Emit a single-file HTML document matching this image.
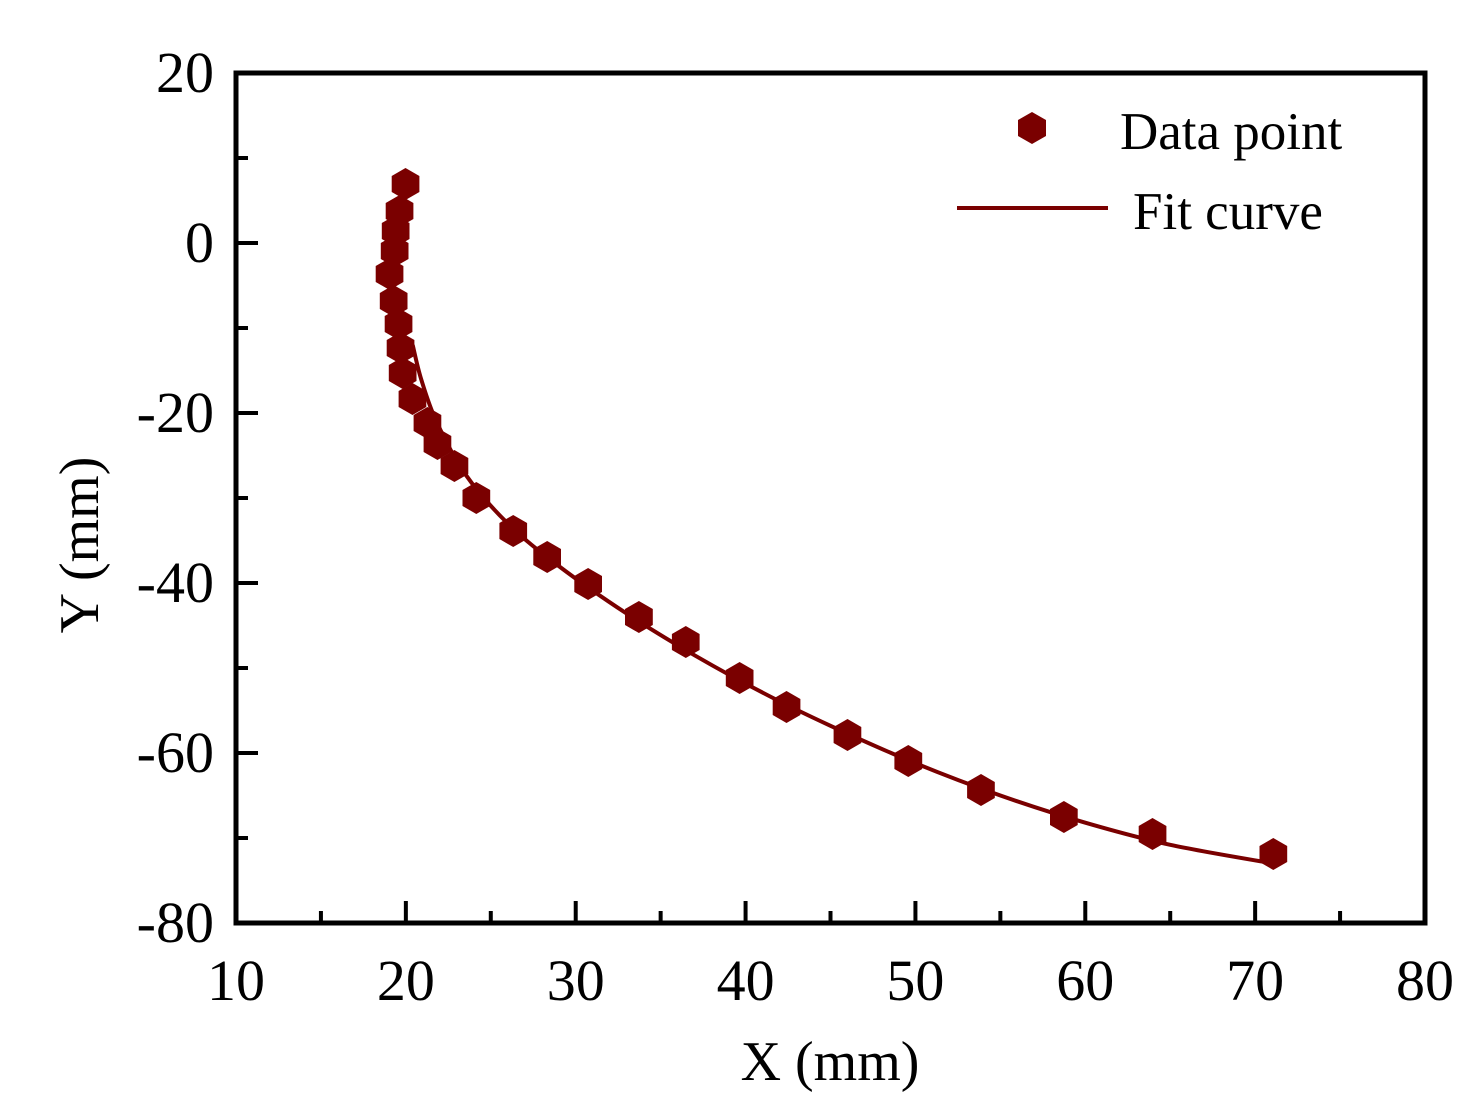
<!DOCTYPE html>
<html><head><meta charset="utf-8"><style>
html,body{margin:0;padding:0;background:#fff;}
svg{display:block;font-family:"Liberation Serif",serif;}
</style></head><body>
<svg id="chart" width="1480" height="1120" viewBox="0 0 1480 1120" xmlns="http://www.w3.org/2000/svg" style="position:absolute;left:0;top:0">
<g id="marks"></g>
<g id="axes"></g>
</svg>
<script>
const dataX=[19.98,19.63,19.40,19.34,19.04,19.28,19.57,19.69,19.81,20.39,21.27,21.86,22.86,24.15,26.32,28.32,30.73,33.72,36.48,39.65,42.41,46.0,49.58,53.86,58.74,63.96,71.07];
const dataY=[6.94,3.76,1.41,-0.94,-3.65,-6.82,-9.53,-12.35,-15.29,-18.35,-21.18,-23.65,-26.24,-30.0,-33.88,-36.94,-40.12,-44.0,-46.94,-51.18,-54.59,-57.88,-60.94,-64.35,-67.53,-69.53,-71.88];
const fitX=[20.4,20.9,21.8,23.5,26,29,33,37,41,45,50,55,60,65,71.07];
const fitY=[-12.0,-16.0,-21.0,-27.2,-33.0,-38.0,-43.6,-48.5,-52.9,-56.8,-61.2,-65.0,-68.2,-70.8,-73.0];
const xTicks=[10,20,30,40,50,60,70,80];
const yTicks=[20,0,-20,-40,-60,-80];
const X0=236,X1=1425,Y0=923,Y1=73;
function sx(v){return X0+(v-10)/70*(X1-X0);}
function sy(v){return Y0-(v+80)/100*(Y0-Y1);}
const NS='http://www.w3.org/2000/svg';
const C='#7a0000';
function mk(t,a,p){const e=document.createElementNS(NS,t);for(const k in a)e.setAttribute(k,a[k]);p.appendChild(e);return e;}
function hex(cx,cy,r){let s='';for(let i=0;i<6;i++){const a=Math.PI/180*(60*i-90);s+=(cx+r*Math.cos(a)).toFixed(1)+','+(cy+r*Math.sin(a)).toFixed(1)+' ';}return s;}
const marks=document.getElementById('marks'),axes=document.getElementById('axes');
const P=fitX.map((x,i)=>[sx(x),sy(fitY[i])]);
let d='M'+P[0][0].toFixed(1)+','+P[0][1].toFixed(1);
for(let i=0;i<P.length-1;i++){
 const p0=P[Math.max(0,i-1)],p1=P[i],p2=P[i+1],p3=P[Math.min(P.length-1,i+2)];
 const c1=[p1[0]+(p2[0]-p0[0])/6,p1[1]+(p2[1]-p0[1])/6];
 const c2=[p2[0]-(p3[0]-p1[0])/6,p2[1]-(p3[1]-p1[1])/6];
 d+='C'+c1.map(v=>v.toFixed(1)).join(',')+' '+c2.map(v=>v.toFixed(1)).join(',')+' '+p2.map(v=>v.toFixed(1)).join(',');
}
const fl=mk('path',{d:d,fill:'none',stroke:C,'stroke-width':4},marks);


dataX.forEach((x,i)=>{
 const p=mk('polygon',{points:hex(sx(x),sy(dataY[i]),16),fill:C},marks);
 
 
});
const fr=mk('rect',{x:X0,y:Y1,width:X1-X0,height:Y0-Y1,fill:'none',stroke:'#000','stroke-width':5},axes);


for(let v=10;v<=80;v+=5){const x=sx(v);const len=v%10===0?22:12;
 const t=mk('line',{x1:x,x2:x,y1:Y0,y2:Y0-len,stroke:'#000','stroke-width':4},axes);
 
 }
for(let v=-80;v<=20;v+=10){const y=sy(v);const len=v%20===0?22:12;
 const t=mk('line',{x1:X0,x2:X0+len,y1:y,y2:y,stroke:'#000','stroke-width':4},axes);
 
 }
xTicks.forEach(v=>{const t=mk('text',{x:sx(v),y:1000,'text-anchor':'middle','font-size':58},axes);t.textContent=v;
 
 });
yTicks.forEach(v=>{const t=mk('text',{x:214,y:sy(v)+19,'text-anchor':'end','font-size':58},axes);t.textContent=v;
 
 });
</script>
<svg style="position:absolute;left:0;top:0" width="1480" height="1120" xmlns="http://www.w3.org/2000/svg" font-family="Liberation Serif, serif">
<text x="830" y="1080" text-anchor="middle" font-size="56">X (mm)</text>
<text transform="translate(98,545) rotate(-90)" text-anchor="middle" font-size="56">Y (mm)</text>
<g>
<polygon points="1032,112 1046,120 1046,136 1032,144 1018,136 1018,120" fill="#7a0000"/>
<text x="1120" y="149" font-size="53">Data point</text>
<line x1="957" y1="208" x2="1108" y2="208" stroke="#7a0000" stroke-width="4"/>
<text x="1133" y="229" font-size="53">Fit curve</text>
</g>
</svg>
</body></html>
